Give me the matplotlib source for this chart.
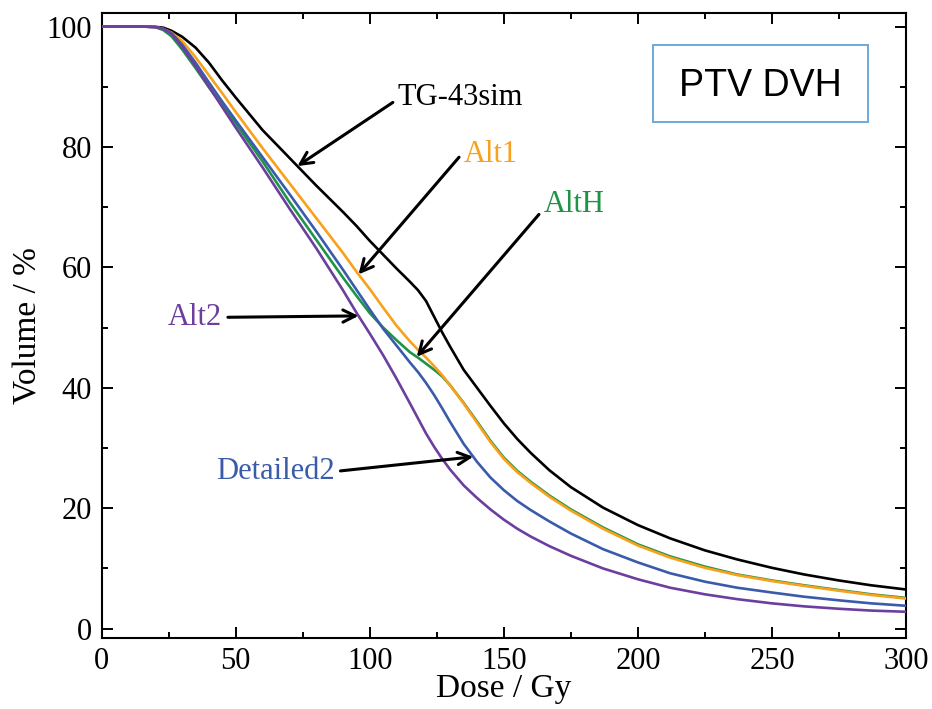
import numpy as np
import matplotlib
matplotlib.use("Agg")
import matplotlib.pyplot as plt
from matplotlib.patches import Rectangle

# Dose axis [Gy] and cumulative DVH volumes [%]
dose = [0, 15, 20, 23, 26, 30, 35, 40, 45, 50, 60, 70, 80, 90, 95, 100, 105, 110,
        115, 118, 121, 124, 127, 130, 135, 140, 145, 150, 155, 160, 167, 175, 187,
        200, 212, 225, 237, 250, 262, 275, 287, 300]

tg43sim = [100, 100, 99.95, 99.8, 99.3, 98.3, 96.5, 94.0, 91.0, 88.2, 82.8, 78.2, 73.6,
           69.2, 66.9, 64.4, 62.1, 59.8, 57.6, 56.2, 54.4, 51.8, 49.2, 46.8, 43.0, 40.0,
           37.0, 34.1, 31.5, 29.2, 26.3, 23.5, 20.1, 17.2, 15.0, 13.0, 11.5, 10.1, 9.0,
           8.0, 7.2, 6.5]
alt1 = [100, 100, 99.9, 99.6, 99.0, 97.6, 94.9, 91.9, 88.9, 85.8, 79.8, 74.0, 68.2,
        62.4, 59.3, 56.4, 53.3, 50.3, 47.7, 46.3, 45.0, 43.6, 42.1, 40.4, 37.4, 34.2,
        31.0, 28.2, 26.0, 24.2, 21.9, 19.6, 16.6, 13.8, 11.8, 10.1, 8.9, 7.9, 7.1,
        6.3, 5.6, 5.0]
altH = [100, 100, 99.9, 99.4, 98.4, 96.2, 93.1, 89.9, 86.9, 83.9, 77.6, 70.9, 64.6,
        58.3, 55.3, 52.4, 50.0, 47.9, 45.9, 45.0, 44.0, 43.0, 41.9, 40.4, 37.5, 34.4,
        31.2, 28.4, 26.2, 24.4, 22.1, 19.8, 16.8, 14.0, 12.0, 10.3, 9.0, 8.0, 7.2,
        6.4, 5.7, 5.1]
detailed2 = [100, 100, 99.9, 99.6, 98.9, 97.0, 94.0, 90.7, 87.5, 84.4, 78.3, 72.2, 66.0,
             59.6, 56.3, 53.0, 49.8, 47.0, 44.2, 42.6, 40.8, 38.8, 36.6, 34.3, 30.7, 27.7,
             25.1, 23.0, 21.2, 19.7, 17.8, 15.8, 13.2, 11.0, 9.2, 7.8, 6.8, 6.0, 5.3,
             4.7, 4.2, 3.8]
alt2 = [100, 100, 99.9, 99.6, 98.8, 96.6, 93.4, 90.0, 86.6, 83.2, 76.6, 69.8, 63.2,
        56.2, 52.5, 49.0, 45.4, 41.5, 37.4, 34.9, 32.4, 30.2, 28.2, 26.4, 23.8, 21.7,
        19.8, 18.1, 16.6, 15.3, 13.7, 12.1, 10.0, 8.2, 6.8, 5.7, 4.9, 4.2, 3.7,
        3.3, 3.0, 2.8]

c_black = "black"
c_orange = "#F9A11B"
c_green = "#1E9447"
c_blue = "#3A5BAA"
c_purple = "#6C3F9E"

plt.rcParams["font.family"] = ["Liberation Serif", "DejaVu Serif"]

fig = plt.figure(figsize=(9.32, 7.09), dpi=100)
ax = fig.add_axes([0.1091, 0.1006, 0.863, 0.8807])

lw = 1.9
ax.plot(dose, tg43sim, color=c_black, lw=lw, zorder=3, solid_joinstyle="round")
ax.plot(dose, altH, color=c_green, lw=lw, zorder=3, solid_joinstyle="round")
ax.plot(dose, alt1, color=c_orange, lw=lw, zorder=3, solid_joinstyle="round")
ax.plot(dose, detailed2, color=c_blue, lw=lw, zorder=3, solid_joinstyle="round")
ax.plot(dose, alt2, color=c_purple, lw=lw, zorder=3, solid_joinstyle="round")

ax.set_xlim(0, 300)
ax.set_ylim(-1.5, 102.2)
ax.set_xticks(np.arange(0, 301, 50))
ax.set_xticks(np.arange(25, 300, 50), minor=True)
ax.set_yticks(np.arange(0, 101, 20))
ax.set_yticks(np.arange(10, 100, 20), minor=True)
ax.tick_params(which="both", direction="in", top=True, right=True, width=1.4,
               labelsize=22, pad=7)
ax.tick_params(which="major", length=8)
ax.tick_params(which="minor", length=4)
for s in ax.spines.values():
    s.set_linewidth(1.5)

ax.set_xlabel("Dose / Gy", fontsize=24, labelpad=-2)
ax.set_ylabel("Volume / %", fontsize=24, labelpad=2)

arrow = dict(arrowstyle="->", color="black", lw=2.2, mutation_scale=22,
             shrinkA=2, shrinkB=0)


def label(text, color, series, xd, xt, yt, ha, relpos):
    ap = dict(arrow, relpos=relpos)
    ax.annotate(text, xy=(xd, np.interp(xd, dose, series)), xytext=(xt, yt),
                textcoords="data", ha=ha, va="center", color=color,
                fontsize=22, arrowprops=ap, zorder=5)


label("TG-43sim", "black", tg43sim, 73, 110.5, 88.2, "left", (0, 0.45))
label("Alt1", c_orange, alt1, 95.8, 135.0, 78.7, "left", (0, 0.6))
label("AltH", c_green, altH, 117.5, 164.8, 70.4, "left", (0, 0.35))
label("Alt2", c_purple, alt2, 95.8, 45.0, 51.7, "right", (1, 0.5))
label("Detailed2", c_blue, detailed2, 138.6, 87.0, 26.1, "right", (1, 0.5))

# title box
ax.add_patch(Rectangle((0.686, 0.8256), 0.267, 0.123, transform=ax.transAxes,
                       fill=False, edgecolor="#6FA8DC", lw=1.4, zorder=4))
ax.text(0.8195, 0.884, "PTV DVH", transform=ax.transAxes, ha="center", va="center",
        fontsize=27, family=["Liberation Sans", "DejaVu Sans"], zorder=5)

fig.savefig("out.png", dpi=100)
